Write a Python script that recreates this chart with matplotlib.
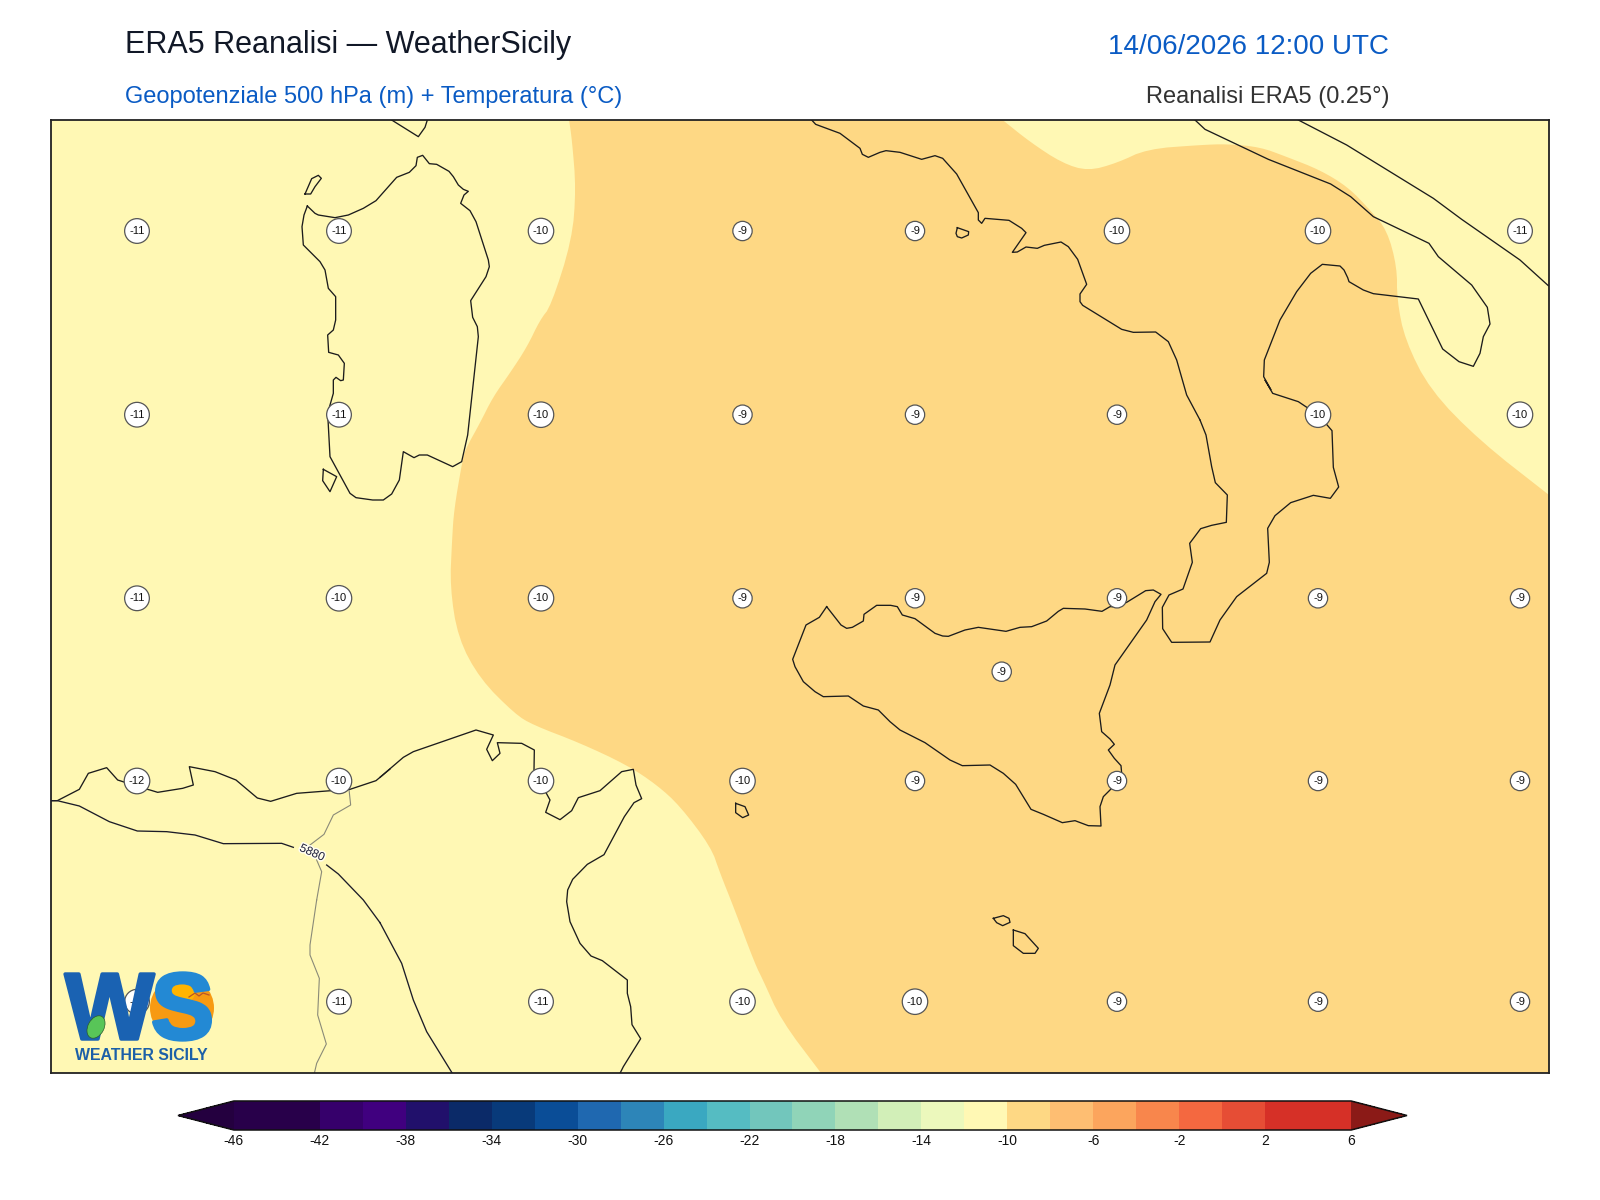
import numpy as np
import matplotlib
matplotlib.use("Agg")
import matplotlib.pyplot as plt
import matplotlib.patheffects as pe
from matplotlib.colors import ListedColormap, BoundaryNorm
from matplotlib.cm import ScalarMappable
from matplotlib.patches import Circle, Ellipse

plt.rcParams['font.family'] = ['Liberation Sans', 'DejaVu Sans']
plt.rcParams['axes.unicode_minus'] = False

# ---- data -----------------------------------------------------------------
TITLE = "ERA5 Reanalisi — WeatherSicily"
SUBTITLE = "Geopotenziale 500 hPa (m) + Temperatura (°C)"
DATE = "14/06/2026 12:00 UTC"
SOURCE = "Reanalisi ERA5 (0.25°)"

LEVELS = list(range(-46, 8, 2))
BAND_COLORS = ['#28004a', '#28004a', '#36006b', '#40007f', '#21106b', '#0b2a68',
               '#083a7a', '#0a4d97', '#1f68b0', '#2d85b8', '#3aa8c1', '#55bcc2',
               '#72c6bc', '#90d4b8', '#b0e0b6', '#d2efb8', '#ecf8bc', '#fff8b4',
               '#fed884', '#febe72', '#fca55d', '#f8864c', '#f46840', '#e64d35',
               '#d63027', '#d63027']
UNDER_COLOR = '#24003f'
OVER_COLOR = '#8b1a17'
TICKS = list(range(-46, 10, 4))

# Temperature labels: picture x/y of the samples and the values read there
LABEL_COLS = [137, 339, 541, 742.5, 915, 1117, 1318, 1520]
LABEL_ROWS = [231, 414.7, 598.3, 781, 1001.7]
TEMPS = [[-11, -11, -10, -9, -9, -10, -10, -11],
         [-11, -11, -10, -9, -9, -9, -10, -10],
         [-11, -10, -10, -9, -9, -9, -9, -9],
         [-12, -10, -10, -10, -9, -9, -9, -9],
         [-11, -11, -11, -10, -10, -9, -9, -9]]
EXTRA_TEMP = (1001.7, 671.7, -9)

# Warm (-10..-8 °C) region outline, digitised: western edge top to bottom, then
# eastern edge from the right side to the top side
WARM_WEST = [(569, 119.5), (572, 140), (576, 189), (572, 240), (551, 306), (540, 320),
             (527, 347), (510, 373), (493, 397), (480, 423), (465, 450), (462, 463),
             (454, 510), (452, 541), (450, 587), (458, 638), (480, 679), (515, 714),
             (533, 725), (580, 743), (627, 765), (657, 785), (680, 806), (711, 847),
             (720, 873), (734, 908), (755, 964), (763, 980), (781, 1020), (821, 1073)]
WARM_EAST = [(1549, 495), (1480, 441), (1430, 390), (1405, 340),
             (1397, 300), (1397, 267), (1387, 230), (1370, 210), (1348, 187),
             (1320, 170), (1287, 157), (1260, 147), (1227, 144), (1200, 145),
             (1147, 149), (1117, 163), (1088, 171), (1062, 163), (1030, 142),
             (1002, 119.5)]
WARM_CORNERS = [(1549, 1073)]

CORSICA = (280, 120, [(335, 0), (415, 50), (435, 22), (442, 0)])
SARDINIA = (280, 120, [(82, 258), (105, 280), (115, 285), (165, 293), (205, 285), (250, 265),
    (288, 242), (350, 172), (388, 157), (408, 137), (412, 112), (428, 106), (448, 131),
    (470, 133), (507, 154), (520, 170), (535, 195), (550, 208), (565, 214), (552, 225),
    (542, 250), (570, 272), (588, 305), (625, 420), (628, 440), (618, 470), (572, 542),
    (578, 592), (592, 620), (595, 650), (563, 945), (545, 1025), (518, 1040), (442, 1005),
    (418, 1005), (402, 1013), (370, 995), (358, 1080), (335, 1122), (310, 1140), (278, 1140),
    (228, 1133), (210, 1120), (150, 1010), (143, 880), (160, 820), (160, 780), (168, 772),
    (182, 782), (190, 780), (193, 730), (175, 705), (146, 697), (143, 645), (160, 630),
    (167, 600), (167, 530), (145, 505), (135, 450), (120, 425), (70, 375), (66, 320),
    (72, 285), (82, 258)])
ASINARA = (280, 120, [(75, 222), (92, 222), (105, 200), (124, 175), (115, 166), (95, 176), (75, 222)])
ANTIOCO = (280, 120, [(130, 1048), (170, 1070), (150, 1115), (128, 1082), (130, 1048)])
SICILY = (780, 570, [(140, 110), (118, 142), (78, 165), (38, 268), (45, 290), (70, 335),
    (105, 365), (130, 380), (205, 378), (250, 408), (295, 420), (330, 455), (360, 480),
    (435, 518), (510, 570), (547, 587), (630, 585), (670, 610), (707, 643), (753, 718),
    (790, 733), (847, 758), (885, 752), (925, 767), (963, 768), (960, 710), (970, 680),
    (990, 660), (1010, 635), (1025, 610), (1023, 587), (1003, 565), (985, 540), (1003, 523),
    (990, 507), (965, 485), (958, 430), (990, 345), (1005, 285), (1100, 150), (1125, 95),
    (1143, 73), (1120, 60), (1097, 62), (1040, 97), (1010, 110), (990, 110), (966, 124),
    (915, 117), (850, 115), (835, 124), (800, 153), (755, 170), (720, 172), (678, 184),
    (595, 172), (555, 180), (505, 199), (488, 198), (465, 190), (405, 146), (367, 135),
    (352, 110), (332, 106), (290, 106), (252, 133), (250, 153), (217, 172), (200, 175),
    (183, 165), (140, 110)])
ITALY_WEST = (800, 120, [(35, 0), (47, 13), (120, 40), (180, 85), (187, 103), (205, 112),
    (240, 97), (258, 92), (300, 97), (365, 118), (405, 107), (428, 115), (470, 162),
    (535, 278), (535, 300), (545, 310), (555, 295), (627, 301), (665, 325), (678, 338),
    (637, 397), (652, 396), (678, 381), (712, 385), (733, 376), (783, 366), (805, 380),
    (833, 418), (860, 493), (840, 522), (840, 545), (848, 556), (965, 628), (1000, 637),
    (1067, 636), (1105, 665), (1130, 720), (1160, 825), (1200, 900)])
CALABRIA = (1140, 380, [(180, 120), (198, 165), (215, 260), (226, 308), (262, 345), (259, 427), (215, 436),
    (182, 446), (149, 490), (157, 547), (129, 627), (87, 645), (67, 682), (68, 746), (95, 787),
    (210, 786), (240, 720), (290, 650), (380, 580), (388, 547), (383, 445), (405, 407),
    (452, 368), (520, 346), (571, 355), (596, 321), (580, 262), (576, 152), (563, 137),
    (540, 110), (520, 95), (475, 65), (398, 40), (375, 0), (392, 28)])
APULIA = (1140, 120, [(392, 808), (371, 770), (373, 720), (420, 600), (470, 515), (512, 460),
    (547, 433), (600, 438), (612, 450), (623, 473), (627, 485), (670, 510), (700, 521),
    (835, 537), (908, 687), (957, 725), (1000, 739), (1020, 700), (1030, 650), (1050, 612),
    (1042, 562), (995, 495), (895, 410), (867, 370), (700, 290), (632, 230), (572, 192),
    (385, 118), (195, 28), (165, 0)])
ADRIATIC = (1140, 120, [(475, 0), (620, 75), (880, 235), (965, 298), (1140, 420), (1225, 497)])
ISCHIA = (800, 120, [(472, 323), (506, 335), (505, 345), (485, 354), (472, 350), (468, 340), (472, 323)])
ALGERIA = (50, 720, [(5, 242), (22, 242), (88, 208), (115, 160), (170, 143), (203, 180),
    (225, 187), (262, 200), (300, 210), (323, 217), (398, 205), (430, 195), (418, 140),
    (495, 155), (558, 180), (622, 234), (662, 244), (740, 220), (830, 213), (900, 208),
    (978, 182), (1020, 147)])
TUNISIA = (380, 720, [(0, 172), (70, 112), (100, 95), (288, 30), (340, 45), (320, 88),
    (337, 122), (360, 100), (352, 68), (425, 70), (463, 90), (462, 150), (480, 185),
    (510, 240), (497, 277), (540, 299), (575, 272), (595, 233), (660, 212), (725, 155),
    (760, 148), (768, 195), (785, 236), (762, 248), (733, 290), (672, 404), (622, 433),
    (578, 478), (563, 510), (560, 545), (570, 605), (600, 670), (633, 708), (667, 722),
    (742, 780), (742, 820), (752, 860), (756, 914), (782, 956), (730, 1040), (720, 1060)])
PANTELLERIA = (720, 780, [(47, 70), (75, 80), (86, 105), (68, 113), (47, 98), (47, 70)])
LINOSA = (720, 780, [(820, 415), (850, 407), (867, 415), (870, 427), (848, 437), (830, 428), (820, 415)])
LAMPEDUSA = (720, 780, [(880, 450), (915, 461), (955, 505), (945, 520), (910, 520), (880, 497), (880, 450)])
COAST_LINES = [CORSICA, SARDINIA, ASINARA, ANTIOCO, SICILY, ITALY_WEST, CALABRIA, APULIA,
               ADRIATIC, ISCHIA, ALGERIA, TUNISIA, PANTELLERIA, LINOSA, LAMPEDUSA]

BORDER_NORTH = (50, 720, [(897, 208), (902, 255), (850, 285), (822, 343), (780, 375)])
BORDER_MID = (50, 720, [(800, 420), (815, 455), (800, 540)])
BORDER_SOUTH = (0, 900, [(950, 0), (930, 135), (930, 165), (958, 235), (953, 345), (979, 432), (950, 490), (943, 520)])

Z5880_WEST = (50, 720, [(5, 242), (22, 242), (88, 258), (178, 305), (262, 333), (350, 335),
    (435, 345), (520, 371), (695, 370), (730, 382)])
Z5880_EAST = (50, 720, [(830, 435), (865, 462), (940, 540), (990, 608)])
Z5880_SOUTH = (380, 720, [(0, 608), (65, 730), (100, 840), (140, 935), (217, 1060)])
Z5880_LABEL = (312, 853, "5880")

# ---- geometry ---------------------------------------------------------------
W, H = 1600, 1200
AX_L, AX_R, AX_T, AX_B = 51, 1549, 119.5, 1073
LON0, LON1, LAT0, LAT1 = 6.0, 19.0, 35.0, 42.0

def lon(x):
    return LON0 + (np.asarray(x, float) - AX_L) * (LON1 - LON0) / (AX_R - AX_L)

def lat(y):
    return LAT1 - (np.asarray(y, float) - AX_T) * (LAT1 - LAT0) / (AX_B - AX_T)

def line_geo(item):
    x0, y0, pts = item
    a = np.array(pts, float)
    return lon(x0 + a[:, 0] / 3), lat(y0 + a[:, 1] / 3)

def rounded(pts, passes=2):
    """Corner cutting of a digitised outline; the two end points stay."""
    a = np.array(pts, float)
    for _ in range(passes):
        q = 0.75 * a[:-1] + 0.25 * a[1:]
        r = 0.25 * a[:-1] + 0.75 * a[1:]
        mid = np.empty((2 * len(q), 2))
        mid[0::2], mid[1::2] = q, r
        a = np.vstack([a[:1], mid, a[-1:]])
    return a

fig = plt.figure(figsize=(16, 12), dpi=100, facecolor='white')
ax = fig.add_axes([AX_L / W, 1 - AX_B / H, (AX_R - AX_L) / W, (AX_B - AX_T) / H])
ax.set_xlim(LON0, LON1)
ax.set_ylim(LAT0, LAT1)
ax.set_xticks([])
ax.set_yticks([])
for s in ax.spines.values():
    s.set_linewidth(1.3)
    s.set_color('#222222')

cmap = ListedColormap(BAND_COLORS).with_extremes(under=UNDER_COLOR, over=OVER_COLOR)
norm = BoundaryNorm(LEVELS, cmap.N)

ax.set_facecolor(cmap(norm(-11)))
wr = np.vstack([rounded(WARM_WEST), WARM_CORNERS, rounded(WARM_EAST)])
ax.fill(lon(wr[:, 0]), lat(wr[:, 1]), color=cmap(norm(-9)), lw=0, zorder=1)

for item in (BORDER_NORTH, BORDER_MID, BORDER_SOUTH):
    ax.plot(*line_geo(item), color='#8a8a78', lw=0.8, zorder=2)
for item in COAST_LINES:
    ax.plot(*line_geo(item), color='#1c1c1c', lw=0.95, zorder=3, solid_joinstyle='round')
for item in (Z5880_WEST, Z5880_EAST, Z5880_SOUTH):
    ax.plot(*line_geo(item), color='#1c1c28', lw=0.95, zorder=3)
ax.text(lon(Z5880_LABEL[0]), lat(Z5880_LABEL[1]), Z5880_LABEL[2], fontsize=8.5, color='#26263e',
        rotation=-24, ha='center', va='center', rotation_mode='anchor', zorder=4,
        path_effects=[pe.withStroke(linewidth=2.2, foreground='white', alpha=0.8)])

bbox = dict(boxstyle='circle,pad=0.42', fc='white', ec='#555555', lw=0.9)
for row, vals in zip(LABEL_ROWS, TEMPS):
    for col, v in zip(LABEL_COLS, vals):
        ax.text(lon(col), lat(row), str(v), fontsize=8, color='#111111', ha='center',
                va='center', bbox=bbox, zorder=5)
ax.text(lon(EXTRA_TEMP[0]), lat(EXTRA_TEMP[1]), str(EXTRA_TEMP[2]), fontsize=8, color='#111111',
        ha='center', va='center', bbox=bbox, zorder=5)

# ---- colour bar -------------------------------------------------------------
cax = fig.add_axes([178 / W, 1 - 1130 / H, (1407 - 178) / W, 29 / H])
cb = fig.colorbar(ScalarMappable(norm=norm, cmap=cmap), cax=cax, orientation='horizontal',
                  extend='both', extendfrac=0.05, ticks=TICKS, spacing='proportional')
cb.ax.tick_params(length=0, labelsize=10, pad=3, labelcolor='#111111')
cb.minorticks_off()
cb.outline.set_linewidth(1.1)
cb.outline.set_edgecolor('#111111')

# ---- texts ------------------------------------------------------------------
def fig_text(x, y, s, **kw):
    fig.text(x / W, 1 - y / H, s, va='baseline', **kw)

fig_text(124.5, 53.3, TITLE, fontsize=22, color='#111827')
fig_text(124.5, 103.5, SUBTITLE, fontsize=17, color='#0a5bc4')
fig_text(1389, 54.5, DATE, fontsize=20, color='#0a5bc4', ha='right')
fig_text(1389, 103.5, SOURCE, fontsize=17, color='#333333', ha='right')

# ---- logo -------------------------------------------------------------------
logo = fig.add_axes([0, 0, 1, 1], zorder=10)
logo.set_xlim(0, W)
logo.set_ylim(H, 0)
logo.axis('off')
logo.patch.set_alpha(0)
logo.add_patch(Circle((182, 1008), 32, fc='#f79a12', ec='none'))
logo.add_patch(Ellipse((182, 993), 26, 20, fc='#ffb400', ec='none'))
logo.plot([189, 195, 199, 203, 209], [997, 993, 996, 993, 995], color='#b8552a', lw=0.9)
rounded_edge = lambda c: [pe.withStroke(linewidth=2.5, foreground=c)]
logo.text(65, 1039, "W", fontsize=68, fontweight='bold', color='#1a62b2', va='baseline',
          ha='left', path_effects=rounded_edge('#1a62b2'))
logo.text(151, 1039, "S", fontsize=68, fontweight='bold', color='#2389d4', va='baseline',
          ha='left', path_effects=rounded_edge('#2389d4'), zorder=4)
logo.add_patch(Ellipse((96, 1027), 16, 24, angle=28, fc='#58c558', ec='#2c5a2c', lw=0.5, zorder=6))
logo.text(75, 1060, "WEATHER SICILY", fontsize=11.4, fontweight='bold', color='#1c60a8', va='baseline', ha='left')

fig.savefig('out.png', dpi=100)
